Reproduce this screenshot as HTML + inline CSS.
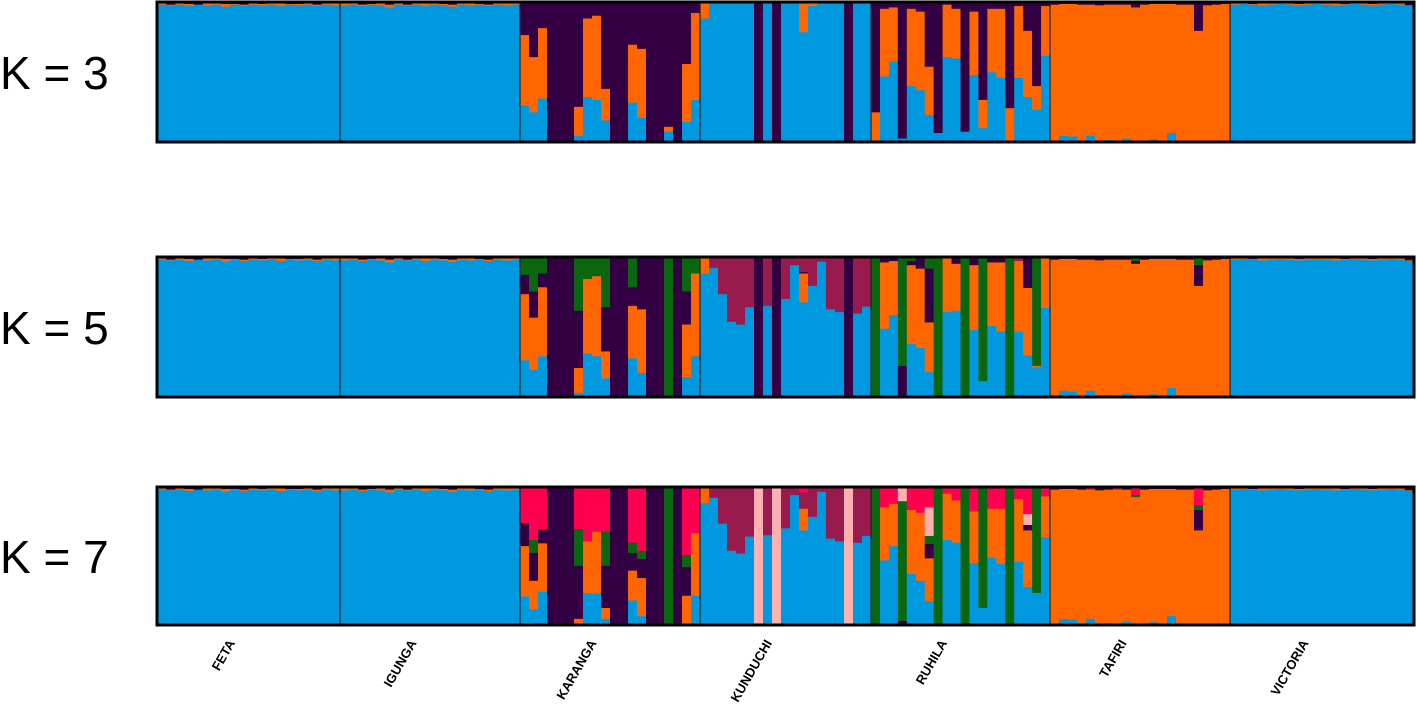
<!DOCTYPE html>
<html><head><meta charset="utf-8">
<style>
html,body{margin:0;padding:0;background:#fff;}
svg{display:block;}
</style></head>
<body>
<svg id="chart" width="1417" height="715" viewBox="0 0 1417 715" xmlns="http://www.w3.org/2000/svg">
</svg>
<script>
// cluster order bottom->top: blue, orange, purple, green, crimson, lightpink, pinkred
const clusterColors = ["#0099e0","#ff6600","#330044","#0a660f","#991a4d","#ffb0b0","#ff0050"];
const populations = ["FETA","IGUNGA","KARANGA","KUNDUCHI","RUHILA","TAFIRI","VICTORIA"];
const kValues = [3,5,7];

const fetaK = [[.99,.01],[.985,.005,.01],[.99,.01],[.98,.015,.005],[.99,0,.01],[.985,.015],[.99,.01],[.975,.02,.005],[.99,.005,.005],[.98,.01,.01],[.99,.01],[.985,.01,.005],[.99,.01],[.98,.02],[.99,.005,.005],[.985,.01,.005],[.99,.01],[.98,.01,.01],[.99,.01],[.985,.015]];
const igungaK = [[.985,.015],[.99,.01],[.98,.01,.01],[.99,.005,.005],[.985,.015],[.97,.02,.01],[.99,.01],[.985,.005,.01],[.99,.01],[.98,.02],[.99,.01],[.985,.01,.005],[.975,.015,.01],[.99,.01],[.985,.015],[.99,.005,.005],[.98,.01,.01],[.99,.01],[.985,.015],[.99,.01]];
const victoriaK = [[.99,.01],[.995,.005],[.99,.005,.005],[.985,.015],[.99,.01],[.995,.005],[.99,.01],[.985,.01,.005],[.99,.01],[.995,.005],[.99,.01],[.985,.015],[.99,.005,.005],[.995,.005],[.99,.01],[.985,.01,.005],[.99,.01],[.995,.005],[.99,.01],[.98,.005,.015]];

const karangaK3 = [[.26,.51,.23],[.21,.40,.39],[.31,.51,.18],[0,0,1],[0,0,1],[0,0,1],[.04,.21,.75],[.32,.57,.11],[.30,.61,.09],[.15,.23,.62],[0,0,1],[0,0,1],[.28,.42,.30],[.17,.50,.33],[0,0,1],[0,0,1],[.07,.035,.895],[0,0,1],[.14,.42,.44],[.30,.63,.07]];
const karangaK5 = [[.26,.48,.14,.12],[.19,.38,.19,.24],[.29,.50,.10,.11],[0,0,1],[0,0,1],[0,0,1],[.025,.18,.415,.38],[.31,.54,0,.15],[.29,.58,0,.13],[.13,.195,.32,.355],[0,0,1],[0,0,1],[.275,.38,.135,.21],[.17,.46,.37],[0,0,1],[0,0,1],[0,0,0,1],[0,0,1],[.14,.38,.24,.24],[.29,.60,0,.11]];
const karangaK7 = [[.205,.37,.17,0,0,0,.255],[.11,.21,.205,.095,0,0,.38],[.24,.355,.105,0,0,0,.30],[0,0,1],[0,0,1],[0,0,1],[0,.04,.39,.27,0,0,.30],[.23,.38,0,0,0,0,.39],[.225,.455,0,0,0,0,.32],[.04,.08,.31,.25,0,0,.32],[0,0,1],[0,0,1],[.175,.22,.13,.075,0,0,.40],[.06,.28,.14,.06,0,0,.46],[0,0,1],[0,0,1],[0,0,0,1],[0,0,1],[0,.21,.21,.09,0,0,.49],[.21,.46,0,0,0,0,.33]];

const kunduchiK3 = [[.89,.11],[1],[1],[1],[1],[1],[0,0,1],[1],[0,0,1],[1],[1],[.79,.21],[.98,.02],[1],[1],[1],[0,0,1],[1],[1]];
const kunduchiK5 = [[.89,.11],[.93,0,0,0,.07],[.74,0,0,0,.26],[.54,0,0,0,.46],[.52,0,0,0,.48],[.645,0,0,0,.355],[0,0,1],[.655,0,0,0,.345],[0,0,1],[.705,0,0,0,.295],[.95,0,0,0,.05],[.68,.21,.01,0,.10],[.80,0,0,0,.20],[.975,0,0,0,.025],[.63,0,0,0,.37],[.61,0,0,0,.39],[0,0,1],[.60,0,0,0,.40],[.65,0,0,0,.35]];
const kunduchiK7 = [[.89,.11],[.93,0,0,0,.07],[.74,0,0,0,.26],[.54,0,0,0,.46],[.52,0,0,0,.48],[.645,0,0,0,.355],[0,0,0,0,0,1],[.655,0,0,0,.345],[0,0,0,0,0,1],[.705,0,0,0,.295],[.95,0,0,0,.05],[.69,.16,0,0,.12,0,.03],[.79,0,0,0,.21],[.975,0,0,0,.025],[.63,0,0,0,.37],[.61,0,0,0,.39],[0,0,0,0,0,1],[.60,0,0,0,.40],[.65,0,0,0,.35]];

const ruhilaK3 = [[0,.21,.79],[.47,.49,.04],[.58,.39,.03],[.02,0,.98],[.40,.56,.04],[.37,.57,.06],[.19,.35,.46],[.06,0,.94],[.61,.38,.01],[.60,.36,.04],[.07,0,.93],[.48,.46,.06],[.095,.205,.70],[.50,.46,.04],[.46,.50,.04],[0,.24,.76],[.46,.52,.02],[.32,.48,.20],[.23,.17,.60],[.62,.36,.02]];
const ruhilaK5 = [[0,0,0,1],[.49,.48,.03],[.59,.39,.02],[0,0,.22,.78],[.38,.57,.03,.02],[.35,.575,.075],[.175,.36,.39,.075],[0,0,0,1],[.61,.39],[.62,.34,.04],[0,0,0,1],[.48,.47,.05],[.11,0,0,.89],[.51,.46,.03],[.47,.50,.03],[0,0,0,1],[.47,.51,0,0,.02],[.295,.49,.215],[.21,.01,0,.78],[.64,.36]];
const ruhilaK7 = [[0,0,0,1],[.47,.39,0,0,0,0,.14],[.575,.31,0,0,0,0,.115],[0,0,.025,.88,0,.095],[.37,.47,0,0,0,0,.16],[.32,.50,0,0,0,0,.18],[.17,.315,.105,.06,0,.21,.14],[0,0,0,1],[.62,.34,0,0,0,0,.04],[.60,.31,0,0,0,0,.09],[0,0,0,1],[.45,.38,0,0,0,0,.17],[.12,0,0,.88],[.49,.36,0,0,0,0,.15],[.445,.405,0,0,0,0,.15],[0,0,0,1],[.46,.46,0,0,0,0,.08],[.275,.415,.04,0,0,.08,.19],[.23,0,0,.77],[.64,.30,0,0,0,0,.06]];

const tafiriK3 = [[0,.99,.01],[.04,.955,.005],[.035,.96,.005],[0,.99,.01],[.04,.95,.01],[0,.985,.015],[.01,.98,.01],[0,.99,.01],[.02,.97,.01],[0,.97,.03],[0,.99,.01],[.015,.98,.005],[0,.995,.005],[.06,.935,.005],[0,.99,.01],[0,.99,.01],[0,.8,.2],[0,.985,.015],[0,.99,.01],[0,.995,.005]];
const tafiriK5 = [[0,.99,.01],[.04,.955,.005],[.035,.96,.005],[0,.99,.01],[.04,.95,.01],[0,.985,.015],[.01,.98,.01],[0,.99,.01],[.02,.97,.01],[0,.96,.02,.02],[0,.99,.01],[.015,.98,.005],[0,.995,.005],[.06,.935,.005],[0,.99,.01],[0,.99,.01],[0,.8,.15,.05],[0,.985,.015],[0,.99,.01],[0,.995,.005]];
const tafiriK7 = [[0,.99,.01],[.04,.955,.005],[.035,.96,.005],[0,.99,.01],[.04,.95,0,0,0,0,.01],[0,.985,.015],[.01,.98,.01],[0,.99,0,0,0,0,.01],[.02,.97,.01],[0,.935,0,.015,0,0,.05],[0,.99,.01],[.015,.98,.005],[0,.995,.005],[.06,.935,.005],[0,.99,.01],[0,.99,.01],[0,.69,.15,.035,0,0,.125],[0,.985,.015],[0,.99,.01],[0,.995,.005]];

const panelData = [
  [fetaK, igungaK, karangaK3, kunduchiK3, ruhilaK3, tafiriK3, victoriaK],
  [fetaK, igungaK, karangaK5, kunduchiK5, ruhilaK5, tafiriK5, victoriaK],
  [fetaK, igungaK, karangaK7, kunduchiK7, ruhilaK7, tafiriK7, victoriaK]
];

const NS = "http://www.w3.org/2000/svg";
const svg = document.getElementById("chart");
const plotLeft = 157, plotRight = 1414;
const popEdges = [157,340,520,700,871,1050,1230,1414];
const panels = [{y:3,h:138},{y:258,h:138},{y:488,h:136}];

function mk(tag, attrs){ const e=document.createElementNS(NS,tag); for(const k in attrs) e.setAttribute(k,attrs[k]); return e; }

panels.forEach((p, pi) => {
  const g = mk("g",{});
  
  
  svg.appendChild(g);
  const yScale = v => p.y + p.h - v * p.h;
  panelData[pi].forEach((ind, popi) => {
    const x0 = popEdges[popi], x1 = popEdges[popi+1];
    const bw = (x1 - x0) / ind.length;
    ind.forEach((vals, ii) => {
      const sum = vals.reduce((a,b)=>a+b,0);
      let acc = 0;
      vals.forEach((v, ci) => {
        if (v <= 0) return;
        const f = v / sum;
        const r = mk("rect",{x:(x0+ii*bw).toFixed(2), y:yScale(acc+f).toFixed(2), width:(bw+0.4).toFixed(2), height:(f*p.h+0.3).toFixed(2), fill:clusterColors[ci]});
        
        
        g.appendChild(r);
        acc += f;
      });
    });
    if (popi > 0) {
      const l = mk("line",{x1:x0, x2:x0, y1:p.y, y2:p.y+p.h, stroke:"#222", "stroke-width":1.2});
      
      
      g.appendChild(l);
    }
  });
  const fr = mk("rect",{x:plotLeft, y:p.y-1, width:plotRight-plotLeft, height:p.h+2, fill:"none", stroke:"#000", "stroke-width":3});
  
  
  g.appendChild(fr);
  const t = mk("text",{x:0, y:p.y+p.h/2+17, "font-family":"Liberation Sans, sans-serif", "font-size":46, fill:"#000"});
  t.textContent = "K = " + kValues[pi];
  
  
  svg.appendChild(t);
});

populations.forEach((name, i) => {
  const cx = (popEdges[i] + popEdges[i+1]) / 2 - 13;
  const t = mk("text",{x:cx, y:643, "text-anchor":"end", "font-family":"Liberation Sans, sans-serif", "font-size":13, "font-weight":"bold", fill:"#000", transform:"rotate(-60 "+cx+" 643)"});
  t.textContent = name;
  
  
  svg.appendChild(t);
});
</script>
</body></html>
